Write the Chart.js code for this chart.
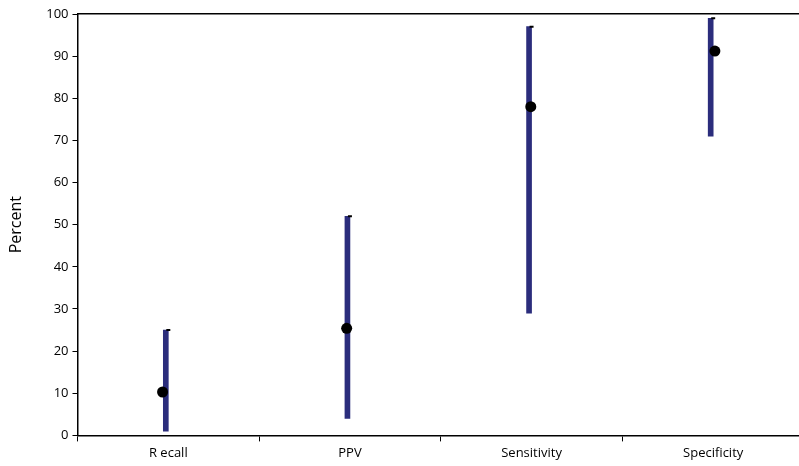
<!DOCTYPE html>
<html>
<head>
<meta charset="utf-8">
<script src="https://cdn.jsdelivr.net/npm/chart.js@4.4.1/dist/chart.umd.min.js"></script>
<style>
  html, body { margin: 0; padding: 0; background: #fff; overflow: hidden; }
  #wrap { width: 810px; height: 466px; position: relative; }
</style>
</head>
<body>
<div id="wrap"><canvas id="c"></canvas></div>
<script>
const categories = ["R ecall", "PPV", "Sensitivity", "Specificity"];
const estimates = [10.3, 25.4, 78, 91.2];
const lowerBounds = [1, 4, 29, 71];
const upperBounds = [25, 52, 97, 99];
const yTicks = [0, 10, 20, 30, 40, 50, 60, 70, 80, 90, 100];

const fontFamily = "'Open Sans', 'Noto Sans', sans-serif";

new Chart(document.getElementById('c'), {
  type: 'bar',
  data: {
    labels: categories,
    datasets: [
      {
        type: 'bar',
        label: 'Interval',
        data: categories.map((c, i) => [lowerBounds[i], upperBounds[i]]),
        backgroundColor: '#2b2d7c',
        borderWidth: 0,
        barThickness: 5,
        xAxisID: 'x',
        yAxisID: 'y',
        order: 3
      },
      {
        type: 'line',
        label: 'Cap',
        data: upperBounds,
        showLine: false,
        pointStyle: 'line',
        pointRadius: 2,
        pointBorderWidth: 2,
        pointBorderColor: '#000',
        pointBackgroundColor: '#000',
        xAxisID: 'x',
        yAxisID: 'y',
        order: 2
      },
      {
        type: 'scatter',
        label: 'Estimate',
        data: estimates.map((v, i) => ({ x: i, y: v })),
        pointRadius: 5.5,
        pointBackgroundColor: '#000',
        pointBorderColor: '#000',
        pointBorderWidth: 0,
        xAxisID: 'xd',
        yAxisID: 'y',
        order: 1
      }
    ]
  },
  options: {
    responsive: true,
    maintainAspectRatio: false,
    animation: false,
    layout: { padding: { top: 14, right: 0, bottom: 1, left: 7 } },
    plugins: { legend: { display: false }, tooltip: { enabled: false } },
    scales: {
      x: {
        type: 'category',
        position: 'bottom',
        offset: true,
        grid: { offset: true, drawOnChartArea: false, drawTicks: true, tickLength: 6, color: '#000', lineWidth: 1 },
        border: { display: true, color: '#000', width: 1.5 },
        ticks: { color: '#000', font: { family: fontFamily, size: 13 }, padding: 4, maxRotation: 0 }
      },
      xd: {
        type: 'linear',
        position: 'top',
        offset: false,
        min: -0.462,
        max: 3.484,
        display: true,
        grid: { display: false, drawTicks: false, offset: false },
        border: { display: true, color: '#000', width: 1.5 },
        ticks: { display: false }
      },
      y: {
        min: 0,
        max: 100,
        afterBuildTicks: (axis) => { axis.ticks = yTicks.map(v => ({ value: v })); },
        grid: { drawOnChartArea: false, drawTicks: true, tickLength: 5, color: '#000', lineWidth: 1 },
        border: { display: true, color: '#000', width: 1.5 },
        ticks: { color: '#000', font: { family: fontFamily, size: 13 }, padding: 4 },
        title: { display: true, text: 'Percent', color: '#000', font: { family: fontFamily, size: 16 }, padding: { top: 0, bottom: 16 } }
      }
    }
  }
});
</script>
</body>
</html>
